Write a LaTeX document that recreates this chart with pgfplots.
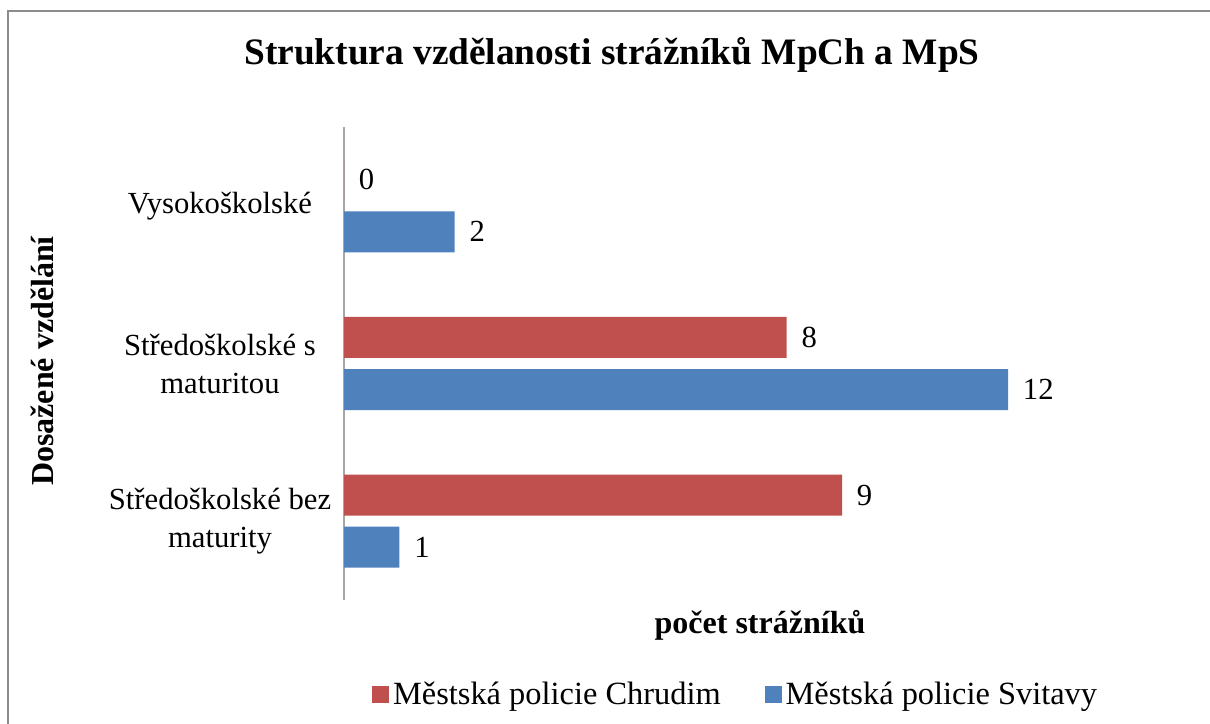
\documentclass[border=0pt]{standalone}
\usepackage{fontspec}
\setmainfont{Liberation Serif}
\usepackage{pgfplots}
\pgfplotsset{compat=1.18}
\definecolor{cred}{HTML}{C0504D}
\definecolor{cblue}{HTML}{4F81BD}
\begin{document}
\begin{tikzpicture}
\useasboundingbox (0,0) rectangle (907.5pt,543pt);
\draw[line width=1.6pt, color=black!45] (6pt,-2pt) |- (910pt,534.75pt);
\begin{axis}[
  at={(258pt,93pt)}, anchor=south west,
  scale only axis, width=622.5pt, height=354.75pt,
  /pgf/number format/assume math mode=true,
  xbar, bar width=0.26,
  xmin=0, xmax=15, ymin=-0.5, ymax=2.5,
  axis x line=none,
  axis y line*=left,
  y axis line style={-, draw=black!35, line width=1pt},
  xtick=\empty,
  ytick={0,1,2},
  yticklabels={{Středoškolské bez\\maturity},{Středoškolské s\\maturitou},{Vysokoškolské}},
  major tick length=0pt,
  yticklabel style={anchor=center, align=center, xshift=-93pt, font=\fontsize{23}{28.5}\selectfont},
  nodes near coords,
  every node near coord/.append style={anchor=west, inner sep=0pt, xshift=11pt, font=\fontsize{23}{27}\selectfont, text=black},
  legend style={at={(axis description cs:0.473,-0.199)}, anchor=center, draw=none,
    font=\fontsize{24.3}{28}\selectfont,
    /tikz/every even column/.append style={column sep=30pt},
    nodes={inner xsep=3pt}},
  legend columns=2,
  legend cell align=left,
  legend image code/.code={\fill[#1, draw=none] (0pt,-6.4pt) rectangle (12.75pt,6.35pt);},
]
\addplot[fill=cred, draw=none, bar shift=0.165] coordinates {(9,0) (8,1) (0,2)};
\addplot[fill=cblue, draw=none, bar shift=-0.165] coordinates {(1,0) (12,1) (2,2)};
\legend{Městská policie Chrudim, Městská policie Svitavy}
\end{axis}
\node[font=\bfseries\fontsize{28}{32}\selectfont] at (459pt,501.75pt) {Struktura vzdělanosti strážníků MpCh a MpS};
\node[font=\bfseries\fontsize{24}{28}\selectfont] at (570pt,74.25pt) {počet strážníků};
\node[font=\bfseries\fontsize{24}{28}\selectfont, rotate=90] at (31.5pt,272.25pt) {Dosažené vzdělání};
\end{tikzpicture}
\end{document}
